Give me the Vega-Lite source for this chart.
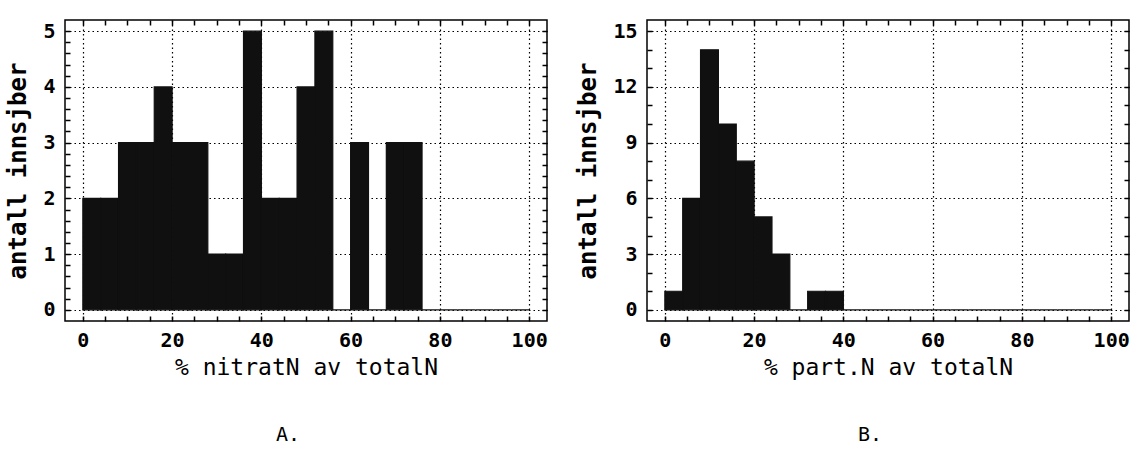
{
  "$schema": "https://vega.github.io/schema/vega-lite/v6.json",
  "background": "white",
  "padding": {"left": 6, "top": 18, "right": 5, "bottom": 5},
  "autosize": {"type": "pad"},
  "datasets": {
    "nitrat": [
      {"start": 0, "end": 4, "count": 2},
      {"start": 4, "end": 8, "count": 2},
      {"start": 8, "end": 12, "count": 3},
      {"start": 12, "end": 16, "count": 3},
      {"start": 16, "end": 20, "count": 4},
      {"start": 20, "end": 24, "count": 3},
      {"start": 24, "end": 28, "count": 3},
      {"start": 28, "end": 32, "count": 1},
      {"start": 32, "end": 36, "count": 1},
      {"start": 36, "end": 40, "count": 5},
      {"start": 40, "end": 44, "count": 2},
      {"start": 44, "end": 48, "count": 2},
      {"start": 48, "end": 52, "count": 4},
      {"start": 52, "end": 56, "count": 5},
      {"start": 56, "end": 60, "count": 0},
      {"start": 60, "end": 64, "count": 3},
      {"start": 64, "end": 68, "count": 0},
      {"start": 68, "end": 72, "count": 3},
      {"start": 72, "end": 76, "count": 3},
      {"start": 76, "end": 80, "count": 0},
      {"start": 80, "end": 84, "count": 0},
      {"start": 84, "end": 88, "count": 0},
      {"start": 88, "end": 92, "count": 0},
      {"start": 92, "end": 96, "count": 0},
      {"start": 96, "end": 100, "count": 0}
    ],
    "part": [
      {"start": 0, "end": 4, "count": 1},
      {"start": 4, "end": 8, "count": 6},
      {"start": 8, "end": 12, "count": 14},
      {"start": 12, "end": 16, "count": 10},
      {"start": 16, "end": 20, "count": 8},
      {"start": 20, "end": 24, "count": 5},
      {"start": 24, "end": 28, "count": 3},
      {"start": 28, "end": 32, "count": 0},
      {"start": 32, "end": 36, "count": 1},
      {"start": 36, "end": 40, "count": 1},
      {"start": 40, "end": 44, "count": 0},
      {"start": 44, "end": 48, "count": 0},
      {"start": 48, "end": 52, "count": 0},
      {"start": 52, "end": 56, "count": 0},
      {"start": 56, "end": 60, "count": 0},
      {"start": 60, "end": 64, "count": 0},
      {"start": 64, "end": 68, "count": 0},
      {"start": 68, "end": 72, "count": 0},
      {"start": 72, "end": 76, "count": 0},
      {"start": 76, "end": 80, "count": 0},
      {"start": 80, "end": 84, "count": 0},
      {"start": 84, "end": 88, "count": 0},
      {"start": 88, "end": 92, "count": 0},
      {"start": 92, "end": 96, "count": 0},
      {"start": 96, "end": 100, "count": 0}
    ]
  },
  "config": {
    "view": {"stroke": "black", "strokeWidth": 1.5},
    "axis": {
      "domain": false,
      "labelFont": "DejaVu Sans Mono",
      "labelFontWeight": "bold",
      "labelFontSize": 20,
      "labelColor": "black",
      "labelFlush": false,
      "labelOverlap": false,
      "titleFont": "DejaVu Sans Mono",
      "titleColor": "black",
      "tickColor": "black",
      "tickWidth": 1.5,
      "gridColor": "black",
      "gridDash": [1.5, 3],
      "gridWidth": 1.2,
      "gridOpacity": 1
    }
  },
  "spacing": 27,
  "hconcat": [
    {
      "width": 482,
      "height": 301,
      "title": {"text": "A.", "orient": "bottom", "frame": "group", "anchor": "middle", "dx": -18, "offset": 46, "font": "DejaVu Sans Mono", "fontSize": 20, "fontWeight": "normal", "color": "black"},
      "data": {"name": "nitrat"},
      "layer": [
        {
          "mark": {"type": "bar", "fill": "#101010", "stroke": "#101010", "strokeWidth": 1.2},
          "encoding": {
            "x": {"field": "start", "type": "quantitative", "scale": {"domain": [-4, 104], "nice": false, "zero": false},
              "axis": {"orient": "bottom", "values": [0, 20, 40, 60, 80, 100], "ticks": false, "grid": true, "labelPadding": 9, "title": "% nitratN av totalN", "titleFontSize": 23, "titleFontWeight": "normal", "titlePadding": 6}},
            "x2": {"field": "end"},
            "y": {"field": "count", "type": "quantitative", "scale": {"domain": [-0.2, 5.2], "nice": false, "zero": false},
              "axis": {"orient": "left", "values": [0, 1, 2, 3, 4, 5], "ticks": false, "grid": true, "labelPadding": 10, "title": "antall innsjber", "titleFontSize": 24, "titleFontWeight": "bold", "titlePadding": 12}},
            "y2": {"datum": 0}
          }
        },
        {
          "mark": {"type": "point", "opacity": 0},
          "encoding": {
            "x": {"field": "start", "type": "quantitative", "scale": {"domain": [-4, 104], "nice": false, "zero": false},
              "axis": {"orient": "bottom", "values": [0,5,10,15,20,25,30,35,40,45,50,55,60,65,70,75,80,85,90,95,100], "labels": false, "grid": false, "tickSize": -5, "title": null}},
            "y": {"field": "count", "type": "quantitative", "scale": {"domain": [-0.2, 5.2], "nice": false, "zero": false},
              "axis": {"orient": "left", "values": [0,0.2,0.4,0.6,0.8,1,1.2,1.4,1.6,1.8,2,2.2,2.4,2.6,2.8,3,3.2,3.4,3.6,3.8,4,4.2,4.4,4.6,4.8,5], "labels": false, "grid": false, "tickSize": -5, "title": null}}
          }
        },
        {
          "mark": {"type": "point", "opacity": 0},
          "encoding": {
            "x": {"field": "start", "type": "quantitative", "scale": {"domain": [-4, 104], "nice": false, "zero": false},
              "axis": {"orient": "top", "values": [0,5,10,15,20,25,30,35,40,45,50,55,60,65,70,75,80,85,90,95,100], "labels": false, "grid": false, "tickSize": -5, "title": null}},
            "y": {"field": "count", "type": "quantitative", "scale": {"domain": [-0.2, 5.2], "nice": false, "zero": false},
              "axis": {"orient": "right", "values": [0,0.2,0.4,0.6,0.8,1,1.2,1.4,1.6,1.8,2,2.2,2.4,2.6,2.8,3,3.2,3.4,3.6,3.8,4,4.2,4.4,4.6,4.8,5], "labels": false, "grid": false, "tickSize": -5, "title": null}}
          }
        }
      ],
      "resolve": {"axis": {"x": "independent", "y": "independent"}}
    },
    {
      "width": 482,
      "height": 301,
      "title": {"text": "B.", "orient": "bottom", "frame": "group", "anchor": "middle", "dx": -18, "offset": 46, "font": "DejaVu Sans Mono", "fontSize": 20, "fontWeight": "normal", "color": "black"},
      "data": {"name": "part"},
      "layer": [
        {
          "mark": {"type": "bar", "fill": "#101010", "stroke": "#101010", "strokeWidth": 1.2},
          "encoding": {
            "x": {"field": "start", "type": "quantitative", "scale": {"domain": [-4, 104], "nice": false, "zero": false},
              "axis": {"orient": "bottom", "values": [0, 20, 40, 60, 80, 100], "ticks": false, "grid": true, "labelPadding": 9, "title": "% part.N av totalN", "titleFontSize": 23, "titleFontWeight": "normal", "titlePadding": 6}},
            "x2": {"field": "end"},
            "y": {"field": "count", "type": "quantitative", "scale": {"domain": [-0.6, 15.6], "nice": false, "zero": false},
              "axis": {"orient": "left", "values": [0, 3, 6, 9, 12, 15], "ticks": false, "grid": true, "labelPadding": 10, "title": "antall innsjber", "titleFontSize": 24, "titleFontWeight": "bold", "titlePadding": 12}},
            "y2": {"datum": 0}
          }
        },
        {
          "mark": {"type": "point", "opacity": 0},
          "encoding": {
            "x": {"field": "start", "type": "quantitative", "scale": {"domain": [-4, 104], "nice": false, "zero": false},
              "axis": {"orient": "bottom", "values": [0,5,10,15,20,25,30,35,40,45,50,55,60,65,70,75,80,85,90,95,100], "labels": false, "grid": false, "tickSize": -5, "title": null}},
            "y": {"field": "count", "type": "quantitative", "scale": {"domain": [-0.6, 15.6], "nice": false, "zero": false},
              "axis": {"orient": "left", "values": [0,1,2,3,4,5,6,7,8,9,10,11,12,13,14,15], "labels": false, "grid": false, "tickSize": -5, "title": null}}
          }
        },
        {
          "mark": {"type": "point", "opacity": 0},
          "encoding": {
            "x": {"field": "start", "type": "quantitative", "scale": {"domain": [-4, 104], "nice": false, "zero": false},
              "axis": {"orient": "top", "values": [0,5,10,15,20,25,30,35,40,45,50,55,60,65,70,75,80,85,90,95,100], "labels": false, "grid": false, "tickSize": -5, "title": null}},
            "y": {"field": "count", "type": "quantitative", "scale": {"domain": [-0.6, 15.6], "nice": false, "zero": false},
              "axis": {"orient": "right", "values": [0,1,2,3,4,5,6,7,8,9,10,11,12,13,14,15], "labels": false, "grid": false, "tickSize": -5, "title": null}}
          }
        }
      ],
      "resolve": {"axis": {"x": "independent", "y": "independent"}}
    }
  ]
}
